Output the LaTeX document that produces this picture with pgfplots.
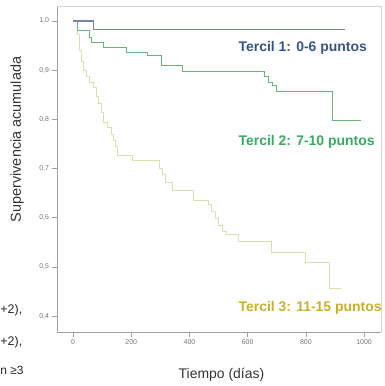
\documentclass[border=0pt]{standalone}
\usepackage{fontspec}
\setmainfont{Liberation Sans}
\usepackage{pgfplots}
\pgfplotsset{compat=1.18}
\definecolor{cBlue}{RGB}{118,132,172}
\definecolor{cGreen}{RGB}{105,180,120}
\definecolor{cYel}{RGB}{218,224,172}
\definecolor{tBlue}{RGB}{55,85,130}
\definecolor{tGreen}{RGB}{55,170,100}
\definecolor{tYel}{RGB}{200,176,40}
\begin{document}
\begin{tikzpicture}
\begin{axis}[name=ax, scale only axis, width=324bp, height=326bp,
  xmin=-55, xmax=1058, ymin=0.3675, ymax=1.0305,
  axis x line*=bottom, axis y line*=left,
  axis line style={draw=gray!75, line width=0.9pt},
  tick align=outside, major tick length=4.5bp,
  tick style={gray!75, line width=0.6pt},
  xtick={0,200,400,600,800,1000},
  ytick={0.4,0.5,0.6,0.7,0.8,0.9,1.0},
  yticklabel style={/pgf/number format/.cd, use comma, fixed, fixed zerofill, precision=1},
  xticklabel style={/pgf/number format/1000 sep={}},
  ticklabel style={font=\fontsize{7}{8}\selectfont, text=gray!90!black},
  /pgf/number format/assume math mode=true,
  clip=false]
\draw[gray!35, line width=0.8pt] (rel axis cs:0,1) -- (rel axis cs:1,1) -- (rel axis cs:1,0);
\addplot[const plot, cYel, line width=0.9pt] coordinates {
(0,1)(14,0.972)(21,0.941)(28,0.917)(35,0.900)(45,0.888)(58,0.876)(70,0.864)(82,0.846)(89,0.833)(96,0.813)(103,0.793)(120,0.784)(132,0.770)(138,0.758)(145,0.744)(152,0.726)(205,0.717)(298,0.701)(308,0.688)(318,0.671)(340,0.656)(415,0.636)(466,0.626)(476,0.612)(488,0.598)(500,0.585)(514,0.571)(528,0.566)(570,0.551)(683,0.530)(799,0.508)(881,0.457)(920,0.457)};
\addplot[const plot, cGreen, line width=0.9pt] coordinates {
(0,1)(14,0.980)(55,0.967)(65,0.957)(106,0.947)(185,0.937)(257,0.929)(305,0.909)(377,0.898)(659,0.888)(672,0.876)(686,0.868)(700,0.856)(892,0.797)(991,0.797)};
\addplot[const plot, cBlue, line width=1.1pt] coordinates {
(0,1)(69,0.982)(933,0.982)};
\node[anchor=west, font=\fontsize{14}{16}\selectfont\bfseries, text=tBlue] at (axis cs:557,0.945) {Tercil 1: 0-6 puntos};
\node[anchor=west, font=\fontsize{14}{16}\selectfont\bfseries, text=tGreen] at (axis cs:557,0.754) {Tercil 2: 7-10 puntos};
\node[anchor=west, font=\fontsize{14}{16}\selectfont\bfseries, text=tYel] at (axis cs:557,0.416) {Tercil 3: 11-15 puntos};
\node[rotate=90, font=\fontsize{14.5}{16}\selectfont, text=black!80] at (axis cs:-192,0.759) {Supervivencia acumulada};
\node[font=\fontsize{14}{16}\selectfont, text=black!80] at (axis cs:510,0.280) {Tiempo (días)};
\node[anchor=west, inner sep=0pt, font=\fontsize{12.5}{15}\selectfont, text=black!85] at (axis cs:-250,0.412) {+2),};
\node[anchor=west, inner sep=0pt, font=\fontsize{12.5}{15}\selectfont, text=black!85] at (axis cs:-250,0.347) {+2),};
\node[anchor=west, inner sep=0pt, font=\fontsize{12}{15}\selectfont, text=black!85] at (axis cs:-250,0.290) {n ≥3};
\end{axis}
\pgfresetboundingbox
\path[use as bounding box] ([xshift=-57bp,yshift=-54bp]ax.south west) rectangle ([xshift=4bp,yshift=6bp]ax.north east);
\end{tikzpicture}
\end{document}
